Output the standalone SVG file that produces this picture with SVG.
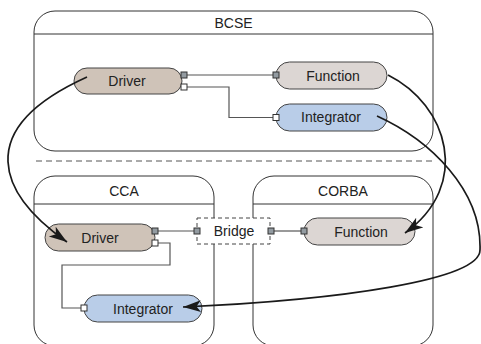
<svg xmlns="http://www.w3.org/2000/svg" width="481" height="344" viewBox="0 0 481 344">
  <style>
    .frame { fill: #ffffff; stroke: #333333; stroke-width: 1; }
    .hdr { stroke: #333333; stroke-width: 1; }
    .title { font-family: "Liberation Sans", Arial, sans-serif; font-size: 14px; fill: #222222; text-anchor: middle; }
    .label { font-family: "Liberation Sans", Arial, sans-serif; font-size: 14px; fill: #222222; text-anchor: middle; }
    .driver { fill: #cfc3b8; stroke: #444444; stroke-width: 1; }
    .function { fill: #dcd6d3; stroke: #444444; stroke-width: 1; }
    .integrator { fill: #b9cde8; stroke: #444444; stroke-width: 1; }
    .port-uses { fill: #939ba1; stroke: #333333; stroke-width: 1; }
    .port-provides { fill: #ffffff; stroke: #333333; stroke-width: 1; }
    .wire { fill: none; stroke: #555555; stroke-width: 1.2; }
    .mapping { fill: none; stroke: #1a1a1a; stroke-width: 1.7; marker-end: url(#arrow); }
  </style>
  <defs>
    <marker id="arrow" markerUnits="userSpaceOnUse" markerWidth="19" markerHeight="13" refX="18" refY="6" orient="auto">
      <path d="M0,0 L18,6 L0,12 L4.5,6 Z" fill="#1a1a1a"/>
    </marker>
  </defs>

  <!-- framework containers -->
  <g id="bcse">
    <rect class="frame" x="34" y="11" width="399" height="140" rx="21"/>
    <line class="hdr" x1="34" y1="34" x2="433" y2="34"/>
    <text class="title" x="233.5" y="28">BCSE</text>
  </g>
  <line x1="36" y1="161" x2="433" y2="161" stroke="#555555" stroke-width="1" stroke-dasharray="6,4"/>
  <g id="cca">
    <rect class="frame" x="34" y="176" width="180" height="170" rx="21"/>
    <line class="hdr" x1="34" y1="204" x2="214" y2="204"/>
    <text class="title" x="124" y="196">CCA</text>
  </g>
  <g id="corba">
    <rect class="frame" x="253" y="176" width="180" height="170" rx="21"/>
    <line class="hdr" x1="253" y1="204" x2="433" y2="204"/>
    <text class="title" x="343" y="196">CORBA</text>
  </g>

  <!-- port wiring -->
  <g id="wires">
    <path class="wire" d="M187,75 H273"/>
    <path class="wire" d="M187,87 H229 V117.5 H273"/>
    <path class="wire" d="M158,231 H194"/>
    <path class="wire" d="M158,243 H170 V265 H62 V308 H81"/>
    <path class="wire" d="M274,231 H301"/>
  </g>

  <!-- BCSE components -->
  <g id="bcse-driver">
    <rect class="driver" x="74" y="68" width="108" height="26" rx="13"/>
    <rect class="port-uses" x="181" y="72" width="6" height="6"/>
    <rect class="port-provides" x="181" y="84" width="6" height="6"/>
    <text class="label" x="127" y="86">Driver</text>
  </g>
  <g id="bcse-function">
    <rect class="function" x="276" y="62" width="111" height="27" rx="13.5"/>
    <rect class="port-uses" x="273" y="72" width="6" height="6"/>
    <text class="label" x="333" y="80.5">Function</text>
  </g>
  <g id="bcse-integrator">
    <rect class="integrator" x="276" y="104" width="111" height="27" rx="13.5"/>
    <rect class="port-provides" x="273" y="114.5" width="6" height="6"/>
    <text class="label" x="331" y="122">Integrator</text>
  </g>

  <!-- CCA components -->
  <g id="cca-driver">
    <rect class="driver" x="45" y="224" width="110" height="27" rx="13.5"/>
    <rect class="port-uses" x="152" y="228" width="6" height="6"/>
    <rect class="port-provides" x="152" y="240" width="6" height="6"/>
    <text class="label" x="100" y="242.5">Driver</text>
  </g>
  <g id="cca-integrator">
    <rect class="integrator" x="84" y="295" width="118" height="27" rx="13.5"/>
    <rect class="port-provides" x="81" y="305" width="6" height="6"/>
    <text class="label" x="143" y="313.5">Integrator</text>
  </g>

  <!-- bridge between frameworks -->
  <g id="bridge">
    <rect x="197" y="218" width="73" height="26" fill="#ffffff" stroke="#444444" stroke-width="1" stroke-dasharray="4,3"/>
    <rect class="port-uses" x="194" y="228" width="6" height="6"/>
    <rect class="port-uses" x="268" y="228" width="6" height="6"/>
    <text class="label" x="234" y="236">Bridge</text>
  </g>

  <!-- CORBA components -->
  <g id="corba-function">
    <rect class="function" x="304" y="218" width="111" height="27" rx="13.5"/>
    <rect class="port-uses" x="301" y="228" width="6" height="6"/>
    <text class="label" x="361" y="236.5">Function</text>
  </g>

  <!-- component migration arrows -->
  <g id="connectors">
    <path class="mapping" d="M87,77 C-30,130 0,195 67,242"/>
    <path class="mapping" d="M388,75 C448,105 472,185 405,233"/>
    <path class="mapping" d="M377,116 C430,140 482,190 480,250 C480,280 340,300 183,307"/>
  </g>
</svg>
